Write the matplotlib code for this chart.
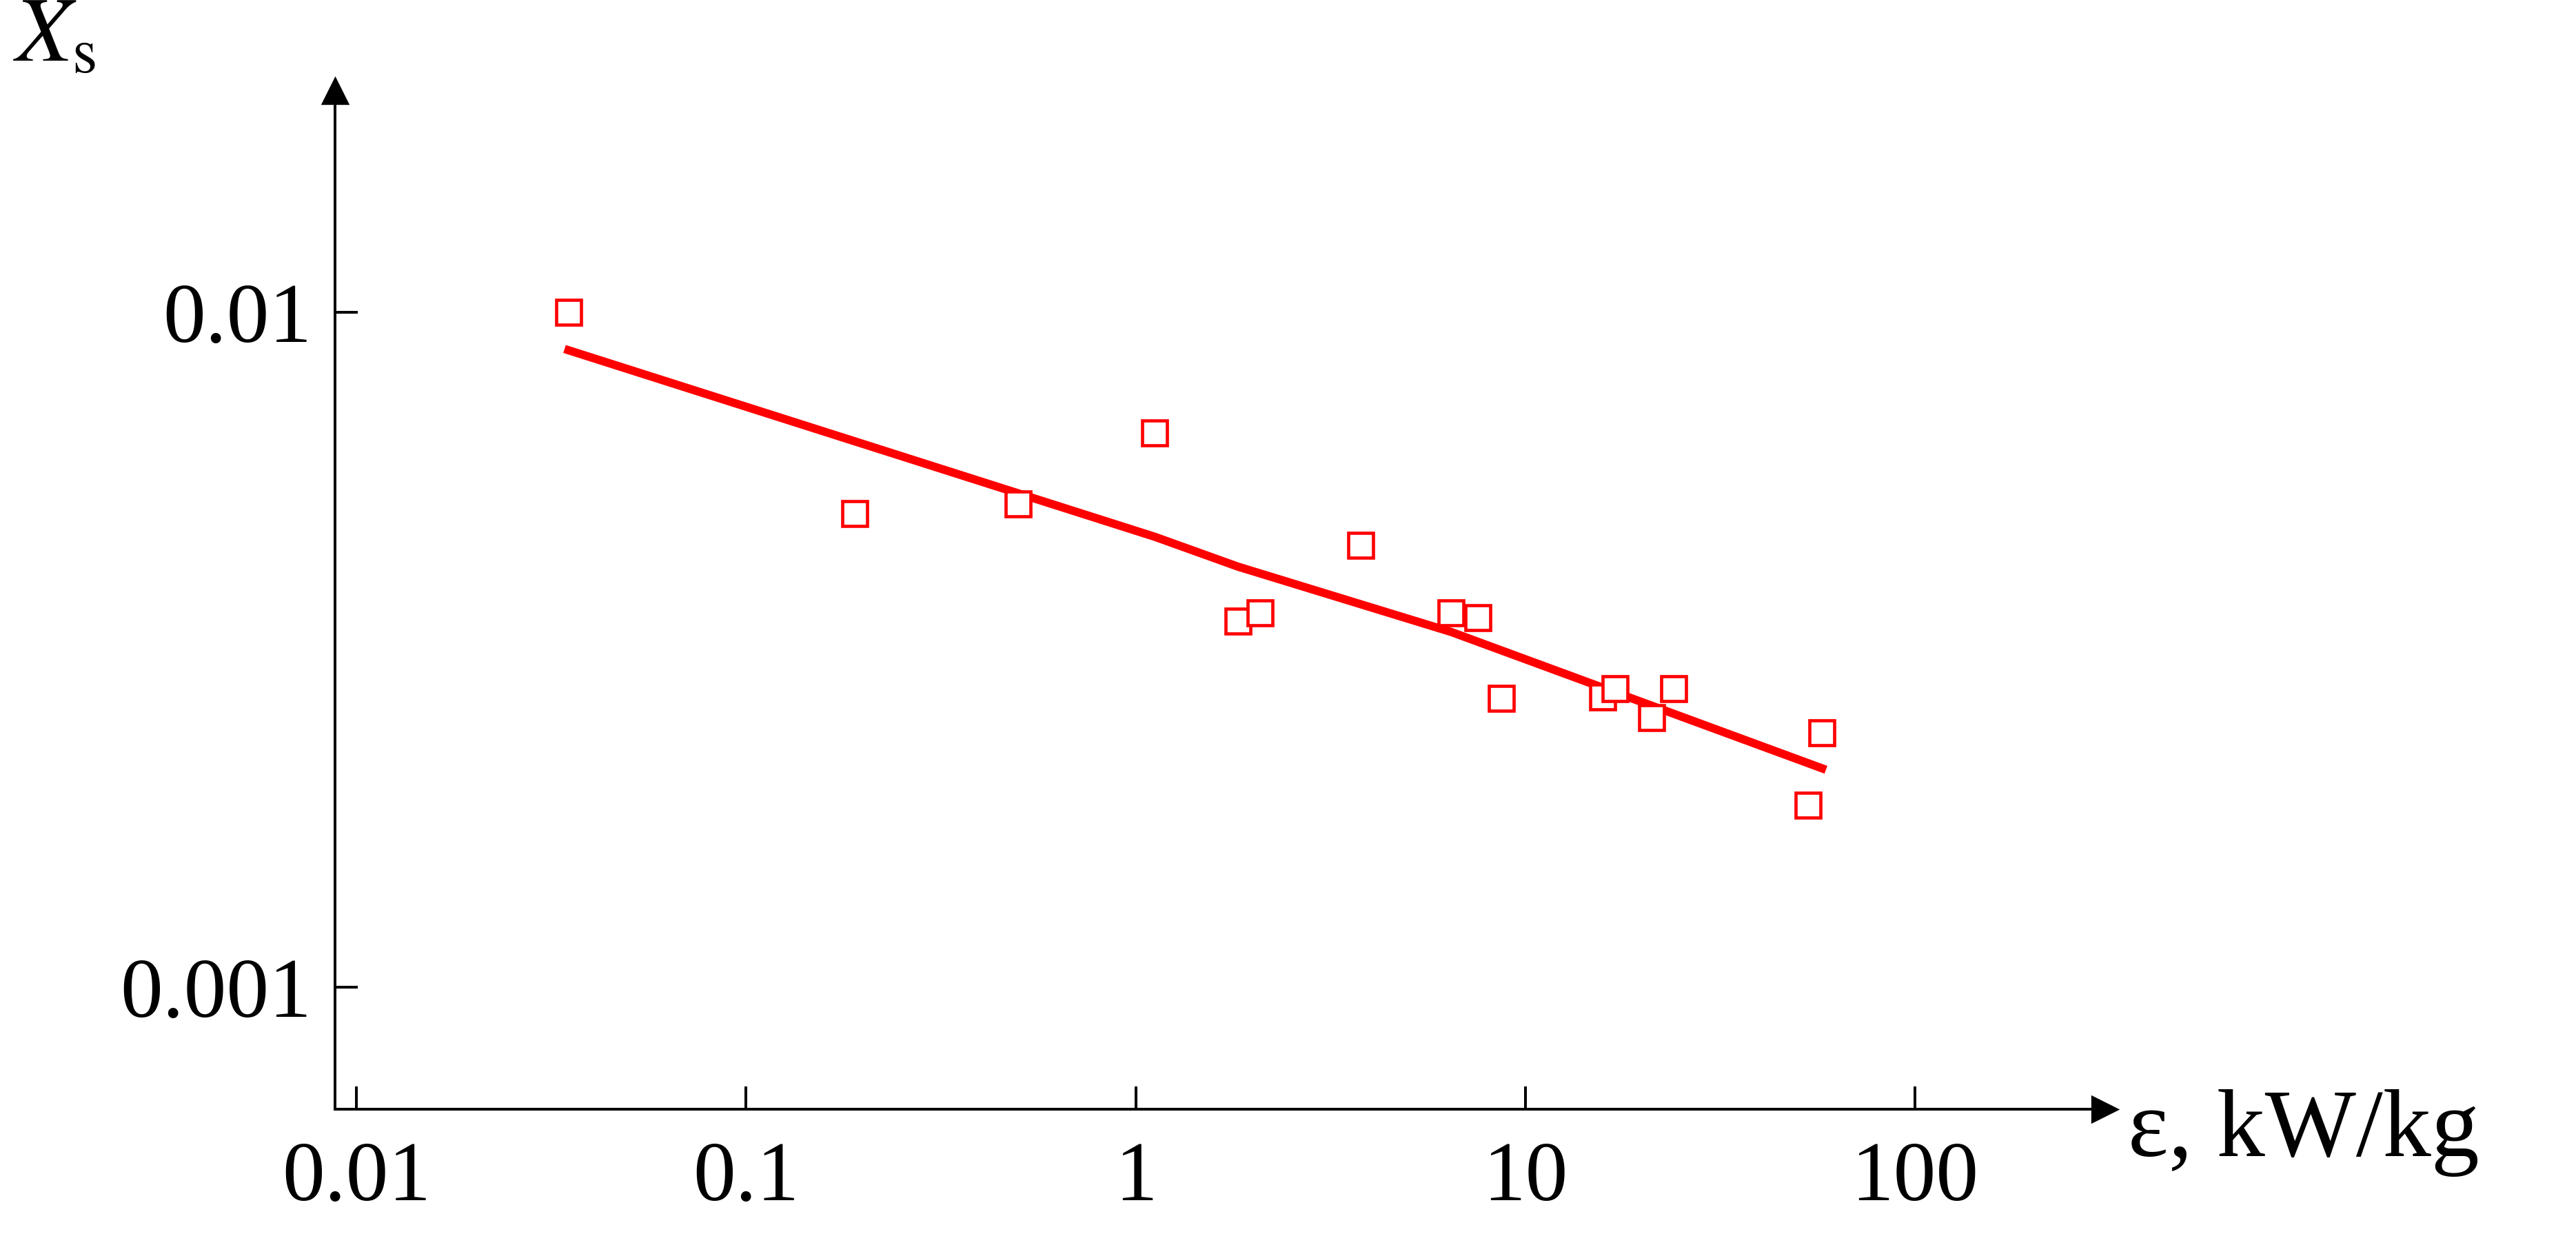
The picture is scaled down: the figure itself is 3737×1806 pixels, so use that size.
import matplotlib
matplotlib.use("Agg")
import matplotlib.pyplot as plt

# measured points
eps = [0.035, 0.19, 0.50, 1.12, 1.83, 2.09, 3.78, 6.46, 7.55, 8.7,
       15.8, 17.0, 21.1, 24.0, 53.2, 57.8]
xs = [0.0100, 0.00503, 0.0052, 0.00663, 0.00349, 0.00359, 0.00452, 0.00359,
      0.00353, 0.00268, 0.00269, 0.00277, 0.00251, 0.00277, 0.00186, 0.00238]

# fitted line (as drawn)
fit_eps = [0.035, 1.12, 1.83, 6.46, 57.8]
fit_xs = [0.00879, 0.00465, 0.0042, 0.00336, 0.00211]

xticks = [0.01, 0.1, 1, 10, 100]
xticklabels = ["0.01", "0.1", "1", "10", "100"]
yticks = [0.001, 0.01]
yticklabels = ["0.001", "0.01"]

plt.rcParams["font.family"] = ["Liberation Serif", "DejaVu Serif"]
plt.rcParams["mathtext.fontset"] = "stix"

fig = plt.figure(figsize=(3737 / 240, 1806 / 240), dpi=240)
ax = fig.add_axes([0.130, 0.109, 0.687, 0.818])

ax.plot(fit_eps, fit_xs, color="#ff0000", linewidth=3.6, zorder=2)
ax.plot(eps, xs, linestyle="none", marker="s", markersize=11,
        markerfacecolor="white", markeredgecolor="#ff0000",
        markeredgewidth=1.4, zorder=3)

ax.set_xscale("log")
ax.set_yscale("log")
ax.set_xlim(0.0088, 307)
ax.set_ylim(0.000659, 0.0213)
ax.set_xticks(xticks)
ax.set_xticklabels(xticklabels)
ax.set_yticks(yticks)
ax.set_yticklabels(yticklabels)
ax.minorticks_off()
ax.tick_params(axis="both", direction="in", length=10, width=1.2, labelsize=37)
ax.tick_params(axis="x", pad=14)
ax.tick_params(axis="y", pad=10)

for side in ("top", "right"):
    ax.spines[side].set_visible(False)
for side in ("left", "bottom"):
    ax.spines[side].set_linewidth(1.2)

# arrow heads
ax.plot(1, 0, ">k", transform=ax.transAxes, clip_on=False, markersize=11)
ax.plot(0, 1, "^k", transform=ax.transAxes, clip_on=False, markersize=11)

fig.text(0.826, 0.055, "ε, kW/kg", fontsize=42, ha="left", va="bottom")
fig.text(0.005, 0.935, r"$X_{\mathrm{s}}$", fontsize=40, ha="left", va="bottom")

fig.savefig("out.png", dpi=240)
